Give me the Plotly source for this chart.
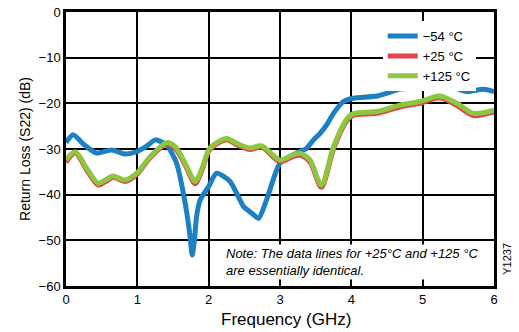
import plotly.graph_objects as go

# -54 °C series
freq_m54 = [0, 0.1, 0.25, 0.43, 0.64, 0.83, 0.99, 1.12, 1.25, 1.41, 1.55, 1.67, 1.73, 1.77,
            1.80, 1.83, 1.88, 2.0, 2.11, 2.30, 2.49, 2.60, 2.70, 2.81, 3.0, 3.23, 3.37, 3.47,
            3.56, 3.65, 3.75, 3.89, 4.03, 4.36, 4.68, 4.92, 5.15, 5.34, 5.62, 5.85, 6.0]
rl_m54 = [-28.6, -26.9, -29.0, -30.9, -30.2, -31.1, -30.6, -29.5, -28.0, -29.1, -33.1, -41.8,
          -48.0, -53.2, -50.0, -44.8, -41.2, -38.2, -35.3, -37.1, -42.6, -44.0, -45.2, -41.2,
          -33.1, -30.9, -29.9, -28.0, -26.6, -24.8, -22.2, -19.6, -18.9, -18.4, -16.9, -16.4,
          -15.5, -16.0, -17.4, -16.9, -17.4]

# +25 °C and +125 °C series
freq_hot = [0, 0.13, 0.29, 0.45, 0.55, 0.66, 0.83, 0.99, 1.18, 1.41, 1.53, 1.67, 1.81, 1.90,
            2.0, 2.07, 2.25, 2.40, 2.58, 2.74, 3.0, 3.15, 3.28, 3.42, 3.58, 3.75, 3.93, 4.03,
            4.36, 4.68, 4.96, 5.24, 5.48, 5.71, 6.0]
rl_p25 = [-32.9, -30.9, -34.6, -37.9, -37.2, -36.2, -37.1, -35.6, -31.9, -28.9, -29.9, -33.5,
          -37.6, -34.9, -30.5, -29.4, -28.0, -29.1, -30.1, -29.6, -32.8, -31.9, -31.3, -32.8,
          -38.4, -30.0, -24.0, -22.6, -22.2, -20.8, -20.0, -18.8, -20.5, -22.7, -21.9]
rl_p125 = [-32.4, -30.6, -34.2, -37.5, -36.8, -35.9, -36.8, -35.3, -31.7, -28.6, -29.5, -33.1,
           -37.1, -34.5, -30.2, -29.1, -27.7, -28.8, -29.8, -29.3, -32.4, -31.5, -30.9, -32.4,
           -37.9, -29.5, -23.6, -22.2, -21.8, -20.4, -19.6, -18.4, -20.0, -22.2, -21.5]

x_ticks = [0, 1, 2, 3, 4, 5, 6]
y_ticks = [0, -10, -20, -30, -40, -50, -60]
y_ticklabels = ["0", "\u221210", "\u221220", "\u221230", "\u221240", "\u221250", "\u221260"]

FONT = "Liberation Sans, Arial, sans-serif"

fig = go.Figure()
fig.add_trace(go.Scatter(x=freq_m54, y=rl_m54, mode="lines", name="\u221254 \u00b0C",
                         line=dict(color="#1b80c4", width=5, shape="spline", smoothing=0.6)))
fig.add_trace(go.Scatter(x=freq_hot, y=rl_p25, mode="lines", name="+25 \u00b0C",
                         line=dict(color="#e0474c", width=5, shape="spline", smoothing=0.8)))
fig.add_trace(go.Scatter(x=freq_hot, y=rl_p125, mode="lines", name="+125 \u00b0C",
                         line=dict(color="#8dc63f", width=5, shape="spline", smoothing=0.8)))

fig.update_layout(
    width=519, height=332,
    margin=dict(l=66, r=25, t=12, b=46),
    paper_bgcolor="white", plot_bgcolor="white",
    font=dict(family=FONT, size=13, color="black"),
    showlegend=True,
    legend=dict(x=0.74, y=0.967, xanchor="left", yanchor="top", bgcolor="white",
                font=dict(size=13), traceorder="normal", tracegroupgap=0,
                itemwidth=30),
    xaxis=dict(range=[0, 6], tickvals=x_ticks, ticktext=[str(t) for t in x_ticks],
               showgrid=True, gridcolor="black", gridwidth=1.5, zeroline=False,
               showline=True, linecolor="black", linewidth=2.5, mirror=True,
               ticks="", tickfont=dict(size=13), automargin=False),
    yaxis=dict(range=[-60, 0], tickvals=y_ticks, ticktext=y_ticklabels,
               showgrid=True, gridcolor="black", gridwidth=1.5, zeroline=False,
               showline=True, linecolor="black", linewidth=2.5, mirror=True,
               ticks="", tickfont=dict(size=13), automargin=False,
               title=dict(text="Return Loss (S22) (dB)", font=dict(size=14), standoff=5)),
)

fig.add_annotation(x=0.514, y=-0.124, xref="paper", yref="paper", xanchor="center",
                   yanchor="middle", showarrow=False, text="Frequency (GHz)",
                   font=dict(size=17))
fig.add_annotation(x=0.37, y=0.086, xref="paper", yref="paper", xanchor="left",
                   yanchor="middle", align="left", showarrow=False, bgcolor="white",
                   text="<i>Note: The data lines for +25\u00b0C and +125 \u00b0C<br>are essentially identical.</i>",
                   font=dict(size=13))
fig.add_annotation(x=1.03, y=0.099, xref="paper", yref="paper", xanchor="center",
                   yanchor="middle", showarrow=False, textangle=-90, text="Y1237",
                   font=dict(size=11))

fig.write_html("out.html", config={"displayModeBar": False},
               post_script="document.body.style.margin='0';")
